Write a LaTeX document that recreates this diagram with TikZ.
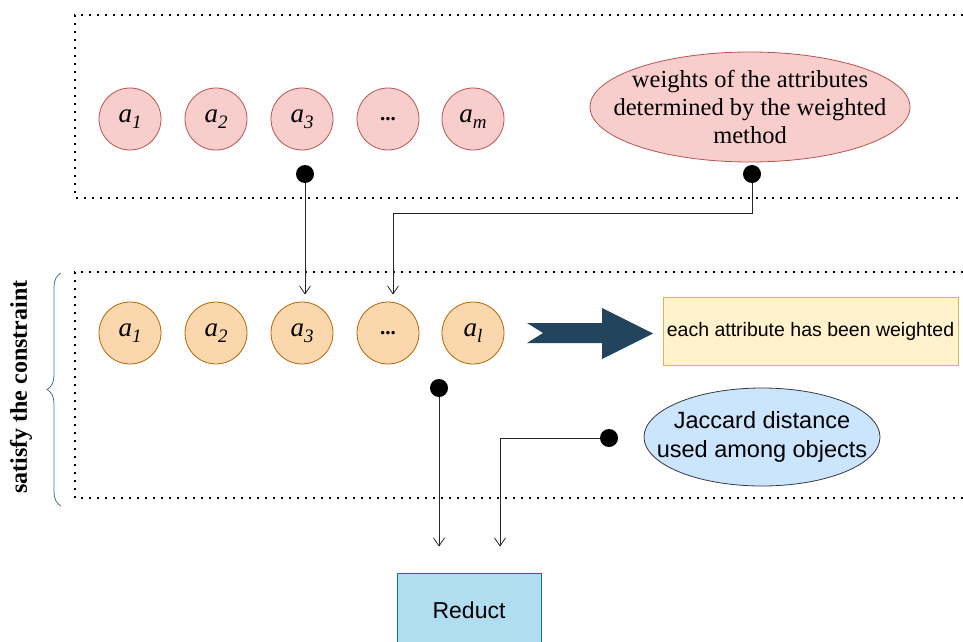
\documentclass[tikz,border=0pt]{standalone}
\usepackage{fontspec}
\setmainfont{Liberation Serif}
\setsansfont{Liberation Sans}
\usetikzlibrary{arrows.meta,shapes.geometric,decorations.pathreplacing}

\definecolor{pinkfill}{HTML}{F8CECC}
\definecolor{pinkline}{HTML}{B85450}
\definecolor{orangefill}{HTML}{FAD7AC}
\definecolor{orangeline}{HTML}{B46504}
\definecolor{skyfill}{HTML}{CCE5FF}
\definecolor{skyline}{HTML}{36393D}
\definecolor{reductfill}{HTML}{B1DDF0}
\definecolor{reductline}{HTML}{10739E}
\definecolor{notefill}{HTML}{FFF2CC}
\definecolor{noteline}{HTML}{D6B656}
\definecolor{bigarrow}{HTML}{23445D}
\definecolor{bracecol}{HTML}{41719C}

\newcommand{\attr}[1]{\textit{a\raisebox{-6pt}{\fontsize{19}{19}\selectfont #1}}}

\begin{document}
\begin{tikzpicture}[x=1pt, y=-1pt,
    attrtop/.style={circle, draw=pinkline, fill=pinkfill, line width=0.8pt,
      minimum size=62pt, inner sep=0pt, font=\fontsize{27}{30}\selectfont},
    attrbot/.style={circle, draw=orangeline, fill=orangefill, line width=0.8pt,
      minimum size=62pt, inner sep=0pt, font=\fontsize{27}{30}\selectfont},
    pin/.style={circle, fill=black, minimum size=18pt, inner sep=0pt},
    frame/.style={line width=1.6pt, dash pattern=on 1.6pt off 6.4pt},
    link/.style={draw=black!85, line width=0.8pt,
      -{Straight Barb[length=8pt,width=11pt]}}
  ]
    \useasboundingbox (0,0) rectangle (963,642);

    % the two dotted frames
    \draw[frame] (963,15) -- (75,15) -- (75,198) -- (963,198);
    \draw[frame] (963,272) -- (75,272) -- (75,498) -- (963,498);

    % attributes before weighting
    \node[attrtop] (t1) at (130,119) {\attr{1}};
    \node[attrtop] (t2) at (216,119) {\attr{2}};
    \node[attrtop] (t3) at (302,119) {\attr{3}};
    \node[attrtop] (t4) at (388,119) {\fontsize{21}{21}\selectfont\textbf{...}};
    \node[attrtop] (t5) at (473,119) {\attr{m}};

    \node[ellipse, draw=pinkline, fill=pinkfill, line width=0.8pt,
      minimum width=320pt, minimum height=110pt] (wts) at (750,107) {};
    \node[align=center, font=\fontsize{24.5}{28}\selectfont] at (wts)
      {weights of the attributes\\determined by the weighted\\method};

    % attributes after weighting
    \node[attrbot] (b1) at (130,333) {\attr{1}};
    \node[attrbot] (b2) at (216,333) {\attr{2}};
    \node[attrbot] (b3) at (302,333) {\attr{3}};
    \node[attrbot] (b4) at (388,333) {\fontsize{21}{21}\selectfont\textbf{...}};
    \node[attrbot] (b5) at (473,333) {\attr{l}};

    \fill[bigarrow] (527,323) -- (602,323) -- (602,308) -- (653,333.5)
      -- (602,359) -- (602,343) -- (527,343) -- (543,333) -- cycle;

    \node[draw=noteline, fill=notefill, line width=0.8pt, minimum width=295pt,
      minimum height=68pt, font=\sffamily\fontsize{19.5}{23}\selectfont]
      (note) at (810.5,331) {each attribute has been weighted};

    \node[ellipse, draw=skyline, fill=skyfill, line width=0.8pt,
      minimum width=236pt, minimum height=98pt] (jac) at (762,437) {};
    \node[align=center, font=\sffamily\fontsize{23.5}{29}\selectfont] at (jac)
      {Jaccard distance\\used among objects};

    \node[draw=reductline, fill=reductfill, line width=0.8pt,
      minimum width=144pt, minimum height=74pt,
      font=\sffamily\fontsize{23}{28}\selectfont] (red) at (469,610) {Reduct};

    % side label
    \draw[decorate, decoration={brace, amplitude=14pt}, bracecol, line width=0.8pt]
      (61,506) -- (61,273);
    \node[rotate=90, font=\bfseries\fontsize{24}{26}\selectfont] (side) at (21,387)
      {satisfy the constraint};

    % connectors
    \node[pin] (p3) at (305,174) {};
    \node[pin] (pw) at (752,174) {};
    \node[pin] (pl) at (439,388) {};
    \node[pin] (pj) at (609,438) {};
    \coordinate (wbend) at (393,213);
    \coordinate (jbend) at (500,438);

    \draw[link, shorten >=7pt] (p3) -- (p3 |- b3.north);
    \draw[link, shorten >=7pt] (pw) |- (wbend) -- (wbend |- b4.north);
    \draw[link, shorten >=26pt] (pl) -- (pl |- red.north);
    \draw[link, shorten >=26pt] (pj) -- (jbend) -- (jbend |- red.north);
\end{tikzpicture}
\end{document}
